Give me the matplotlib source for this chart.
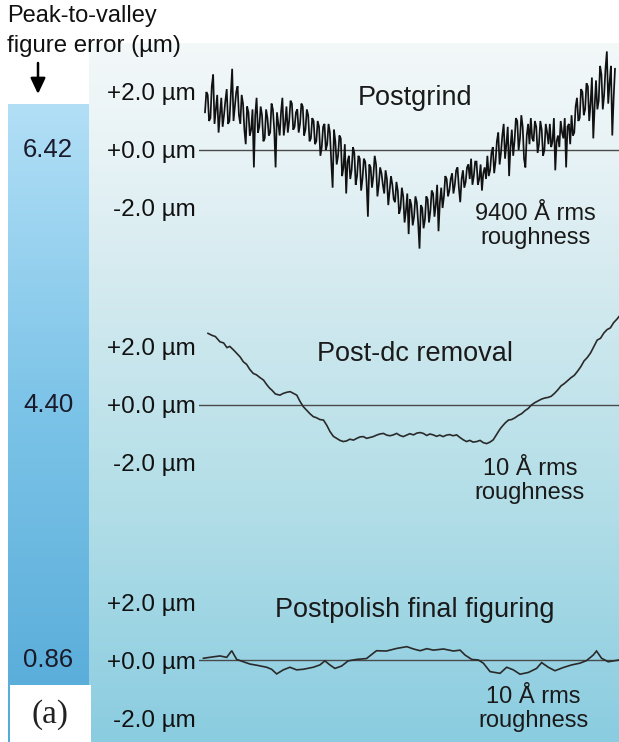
import numpy as np
import matplotlib
matplotlib.use("Agg")
import matplotlib.pyplot as plt

plt.rcParams['font.family'] = ['Liberation Sans', 'DejaVu Sans']

W, H = 619, 742

# ---------------- data ----------------
pv_values = ["6.42", "4.40", "0.86"]
panel_titles = ["Postgrind", "Post-dc removal", "Postpolish final figuring"]
rough_labels = ["9400 Å rms\nroughness", "10 Å rms\nroughness", "10 Å rms\nroughness"]
tick_vals = [-2.0, 0.0, 2.0]
tick_labels = ["-2.0 µm", "+0.0 µm", "+2.0 µm"]

# postgrind profile read as alternating samples (even / odd samples along the scan)
postgrind_even = [1.3, 1.9, 1.1, 2.6, 1.4, 0.6, 1.8, 1.2, 2.1, 1.0,
                  2.8, 1.5, 2.2, 0.9, 1.6, 0.2, 1.3, 0.7, -0.6, 1.8,
                  0.8, 1.2, 0.4, 1.1, 0.6, 1.4, -0.6, 0.9, 1.3, 0.5,
                  1.5, 1.0, 1.6, 0.8, 1.4, 0.9, 1.5, 0.7, 1.2, 0.4,
                  1.0, 0.3, 0.8, 0.1, 0.9, 0.2, 0.6, -1.3, 0.3, -0.2,
                  0.4, -0.6, -1.5, -0.2, -0.7, -0.1, -0.9, -0.3, -1.0, -0.4,
                  -2.3, -0.6, -0.9, -0.5, -1.2, -0.8, -1.5, -1.0, -1.4, -1.2,
                  -1.8, -1.4, -2.0, -1.6, -2.1, -2.9, -1.9, -2.3, -1.8, -3.4,
                  -2.0, -2.4, -1.7, -2.1, -1.5, -1.9, -2.8, -1.3, -1.6, -1.0,
                  -1.4, -0.8, -1.2, -0.6, -1.8, -0.7, -1.1, -0.5, -0.3, -0.9,
                  -0.4, -1.0, -1.4, -0.6, -0.2, -0.7, 0.1, -0.4, 0.6, -0.1,
                  0.9, 0.2, -0.9, 0.7, 0.3, 1.0, 0.4, 0.8, -0.6, 0.9,
                  1.1, 0.3, 0.8, 0.2, 0.7, 0.0, 0.6, 0.9, 0.3, -0.7,
                  0.5, 1.0, 0.4, -0.6, 0.9, 1.2, 0.6, 1.8, 1.1, 2.0,
                  1.4, 2.2, 1.6, 0.4, 2.4, 1.7, 2.6, 1.9, 3.4, 2.3,
                  0.5, 2.8]
postgrind_odd = [2.0, 1.0, 2.2, 0.9, 1.9, 1.2, 0.8, 1.7, 0.9, 1.9,
                 1.0, 2.0, 1.2, 1.9, 0.7, 1.5, 0.5, 1.4, 1.2, 0.6,
                 1.5, 0.3, 1.4, 0.5, 1.6, 0.7, 1.3, 0.5, 1.8, 0.9,
                 0.6, 1.7, 0.7, 1.3, 0.6, 1.6, 0.5, 1.4, 0.3, 1.1,
                 0.2, 1.0, -0.2, 0.8, 0.0, 0.9, -0.4, 0.7, -0.5, 0.5,
                 -0.9, 0.2, -0.4, -1.0, 0.1, -1.2, -0.2, -1.4, -0.3, -1.1,
                 -0.5, -1.3, -0.2, -1.6, -0.6, -1.2, -0.7, -1.9, -0.9, -1.7,
                 -1.1, -2.2, -1.3, -2.5, -1.5, -1.7, -2.6, -1.6, -2.5, -1.9,
                 -2.7, -1.6, -2.5, -1.4, -2.3, -1.2, -1.8, -2.0, -0.9, -1.6,
                 -1.0, -1.5, -0.7, -1.3, -1.0, -1.3, -0.6, -1.0, -1.2, -0.4,
                 -1.2, -0.5, -0.8, -1.0, -0.9, -0.1, -0.8, 0.3, -0.5, 0.5,
                 -0.3, 0.8, 0.1, -0.2, 1.1, 0.0, 1.2, -0.3, 0.5, 0.2,
                 0.4, 1.0, -0.1, 1.0, -0.2, 0.9, 0.2, 0.1, 1.1, 0.3,
                 0.1, 0.6, 1.1, 0.8, 0.2, 0.5, 1.5, 1.0, 2.1, 1.2,
                 2.3, 1.0, 2.5, 1.5, 1.4, 2.9, 1.4, 2.8, 1.6, 2.9, 1.8]

dc_pos = [0.0, 1.0, 1.8, 2.9, 3.8, 4.6, 5.3, 6.2, 7.0, 7.8, 8.6, 9.4, 10.2, 11.0, 11.8,
          12.6, 13.5, 14.3, 15.0, 15.5, 16.4, 17.5, 18.3, 19.2, 20.0, 20.8, 21.6, 22.4,
          23.2, 24.0, 24.8, 25.6, 26.4, 27.2, 28.1, 28.9, 29.7, 30.5, 31.3, 32.1, 32.9,
          33.7, 34.5, 35.4, 36.2, 37.0, 37.8, 38.6, 39.4, 40.2, 41.0, 41.8, 42.7, 43.5,
          44.3, 45.1, 45.9, 46.7, 47.5, 48.3, 49.1, 50.0, 50.8, 51.6, 52.4, 53.2, 54.0,
          54.8, 55.6, 56.4, 57.2, 58.0, 58.8, 59.6, 60.5, 61.3, 62.1, 62.9, 63.7, 64.5,
          65.4, 66.2, 67.0, 67.8, 68.6, 69.4, 70.2, 71.0, 71.5, 72.3, 73.1, 73.9, 74.7,
          75.5, 76.3, 77.1, 77.9, 78.7, 79.5, 80.3, 81.1, 81.9, 82.7, 83.5, 84.3, 85.1,
          85.9, 86.7, 87.5, 88.3, 89.1, 89.9, 90.7, 91.5, 92.3, 93.1, 93.9, 94.7, 95.5,
          96.3, 97.1, 97.9, 98.7, 99.5, 100.0]
dc_um = [2.47, 2.40, 2.36, 2.18, 2.14, 1.98, 2.02, 1.90, 1.78, 1.66, 1.49, 1.40, 1.22, 1.09, 1.04,
         0.95, 0.86, 0.70, 0.58, 0.52, 0.38, 0.34, 0.40, 0.44, 0.46, 0.40, 0.34, 0.12,
         -0.06, -0.18, -0.30, -0.40, -0.44, -0.50, -0.52, -0.70, -0.92, -1.08, -1.15, -1.22, -1.26,
         -1.24, -1.18, -1.21, -1.15, -1.10, -1.09, -1.15, -1.12, -1.09, -1.04, -1.00, -0.98, -1.04,
         -1.06, -1.03, -0.98, -1.05, -1.09, -1.04, -0.99, -1.03, -0.97, -0.95, -0.98, -1.05, -1.00,
         -1.03, -1.08, -1.04, -1.09, -1.04, -1.02, -1.06, -1.03, -1.12, -1.20, -1.26, -1.22, -1.28,
         -1.26, -1.22, -1.30, -1.33, -1.28, -1.20, -1.02, -0.84, -0.75, -0.62, -0.52, -0.50, -0.44,
         -0.36, -0.30, -0.20, -0.12, 0.00, 0.08, 0.14, 0.20, 0.24, 0.26, 0.30, 0.40, 0.52,
         0.66, 0.74, 0.84, 0.94, 1.02, 1.16, 1.32, 1.52, 1.64, 1.80, 2.02, 2.24, 2.30,
         2.48, 2.60, 2.66, 2.84, 2.96, 3.05]

pp_pos = [0.1, 2.5, 4.1, 5.7, 6.9, 8.1, 9.7, 11.3, 12.9, 15.3, 16.5, 17.7, 19.3, 20.9, 22.5,
          24.1, 26.5, 28.1, 29.3, 30.5, 31.7, 33.3, 34.9, 36.9, 39.3, 41.7, 44.1, 46.6, 49.0,
          50.6, 52.2, 53.8, 55.4, 57.8, 60.2, 61.8, 63.0, 64.6, 66.2, 67.4, 69.0, 71.4, 73.0,
          74.6, 76.2, 78.2, 80.2, 81.4, 83.0, 84.6, 86.6, 88.6, 90.6, 92.2, 93.8, 94.6, 95.8,
          97.4, 100.0]
pp_um = [0.06, 0.11, 0.14, 0.09, 0.32, 0.02, -0.06, -0.14, -0.18, -0.25, -0.32, -0.48, -0.34, -0.25, -0.34,
         -0.32, -0.25, -0.17, -0.03, -0.17, -0.29, -0.21, -0.03, 0.02, 0.05, 0.32, 0.31, 0.40, 0.46,
         0.38, 0.32, 0.39, 0.34, 0.38, 0.31, 0.34, 0.17, 0.02, 0.0, -0.11, -0.40, -0.46, -0.25,
         -0.34, -0.49, -0.43, -0.29, -0.09, -0.25, -0.37, -0.26, -0.17, -0.11, -0.02, 0.17, 0.31, 0.06,
         -0.06, 0.0]

postgrind_um = []
for k in range(len(postgrind_even)):
    postgrind_um.append(postgrind_even[k])
    if k < len(postgrind_odd):
        postgrind_um.append(postgrind_odd[k])

# ---------------- layout helpers ----------------
fig = plt.figure(figsize=(W / 100, H / 100), dpi=100)
fig.patch.set_facecolor('white')

def rect(x0, y0, x1, y1):
    return [x0 / W, 1 - y1 / H, (x1 - x0) / W, (y1 - y0) / H]

bg = fig.add_axes([0, 0, 1, 1])
bg.set_xlim(0, W)
bg.set_ylim(H, 0)
bg.axis('off')

def vgrad(ax, x0, x1, y0, y1, stops):
    ys = np.arange(y0, y1 + 1)
    sy = [s[0] for s in stops]
    cols = np.stack([np.interp(ys, sy, [s[1][k] for s in stops]) for k in range(3)], axis=-1) / 255.0
    img = cols[:, None, :]
    ax.imshow(img, extent=[x0, x1, y1, y0], aspect='auto', interpolation='bilinear', zorder=0)

# right panel gradient
vgrad(bg, 89, W, 43, H, [(43, (243, 248, 249)), (150, (232, 243, 246)), (270, (214, 235, 240)),
                         (520, (176, 221, 231)), (742, (138, 204, 224))])
# left strip gradient
vgrad(bg, 8, 89, 104, H, [(104, (178, 223, 246)), (400, (125, 196, 232)), (742, (84, 170, 216))])
bg.set_xlim(0, W)
bg.set_ylim(H, 0)

# (a) box
bg.add_patch(plt.Rectangle((10, 685), 81, 60, facecolor='white', edgecolor='none', zorder=2))
bg.text(50, 715, "(a)", fontsize=24, family=['Liberation Serif', 'DejaVu Serif'],
        ha='center', va='center', color='#222222', zorder=3)

# header
bg.text(7, 16, "Peak-to-valley", fontsize=17, ha='left', va='center', color='#111111')
bg.text(7, 46, "figure error (µm)", fontsize=17.3, ha='left', va='center', color='#111111')
bg.annotate("", xy=(38, 94), xytext=(38, 63),
            arrowprops=dict(arrowstyle='-|>,head_width=0.45,head_length=0.95', color='black',
                            lw=1.8, shrinkA=0, shrinkB=0))

# PV values
pv_y = [150, 405, 660]
for v, yy in zip(pv_values, pv_y):
    bg.text(48, yy, v, fontsize=18.5, ha='center', va='center', color='#1a1a2a')

# ---------------- trace panels ----------------
SCALE = 29.0  # px per µm
zero_y = [150, 405, 660]
ylims = [(-4, 4), (-4, 4), (-2.8, 3.0)]
x_spans = [(205, 615), (208, 619), (203, 619)]
series_x = [np.linspace(0, 100, len(postgrind_um)), np.array(dc_pos), np.array(pp_pos)]
series_y = [postgrind_um, dc_um, pp_um]
line_cols = ['#111111', '#2a2a2a', '#2a2a2a']
line_w = [1.25, 1.2, 1.2]
title_xy = [(415, 98), (415, 354), (415, 610)]
rough_xy = [(535, 226), (530, 481), (533, 709)]

AX_X0, AX_X1 = 199, W
for i in range(3):
    lo, hi = ylims[i]
    top = zero_y[i] - hi * SCALE
    bot = zero_y[i] - lo * SCALE
    ax = fig.add_axes(rect(AX_X0, top, AX_X1, bot))
    ax.patch.set_alpha(0)
    for s in ax.spines.values():
        s.set_visible(False)
    xs0, xs1 = x_spans[i]
    span = xs1 - xs0
    ax.set_xlim(-(xs0 - AX_X0) / span * 100, 100 + (AX_X1 - xs1) / span * 100)
    ax.set_ylim(lo, hi)
    ax.set_xticks([])
    ax.set_yticks(tick_vals)
    ax.set_yticklabels(tick_labels, fontsize=17.5, color='#111111')
    ax.tick_params(axis='y', length=0, pad=2)
    ax.axhline(0, color='#4a4a4a', lw=1.0, zorder=1)
    ax.plot(series_x[i], series_y[i], color=line_cols[i], lw=line_w[i], zorder=2,
            solid_joinstyle='miter')
    bg.text(title_xy[i][0], title_xy[i][1], panel_titles[i], fontsize=19.5,
            ha='center', va='center', color='#1a1a1a', zorder=5)
    bg.text(rough_xy[i][0], rough_xy[i][1], rough_labels[i], fontsize=17,
            ha='center', va='center', color='#1a1a1a', linespacing=1.1, zorder=5)

fig.savefig("out.png", dpi=100)
